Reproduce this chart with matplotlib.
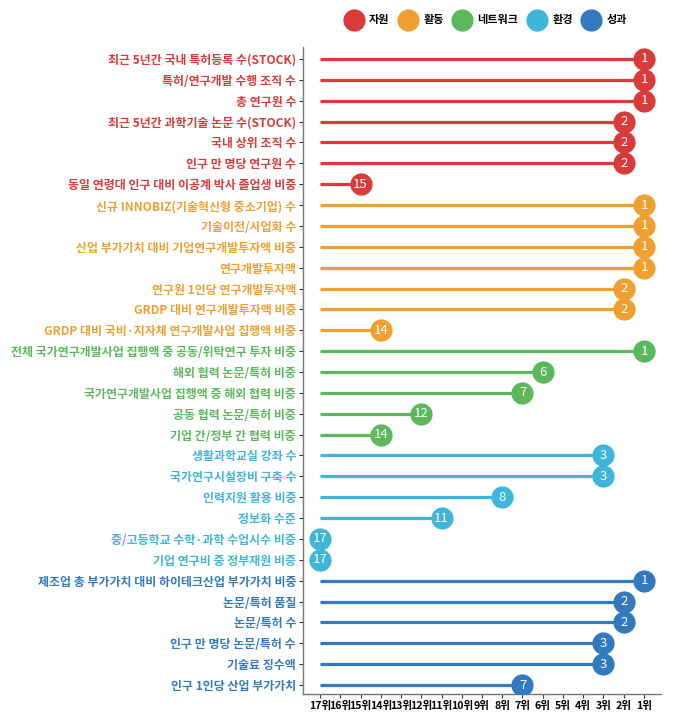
import matplotlib
matplotlib.use("Agg")
import matplotlib.pyplot as plt
from matplotlib.lines import Line2D

plt.rcParams['font.family'] = ['Noto Sans CJK KR', 'DejaVu Sans']

categories = ['자원', '활동', '네트워크', '환경', '성과']
colors = ['#D93A3A', '#F0A030', '#5CB85C', '#40B5DA', '#3279BE']

items_resource = ['최근 5년간 국내 특허등록 수(STOCK)', '특허/연구개발 수행 조직 수', '총 연구원 수',
                  '최근 5년간 과학기술 논문 수(STOCK)', '국내 상위 조직 수', '인구 만 명당 연구원 수',
                  '동일 연령대 인구 대비 이공계 박사 졸업생 비중']
ranks_resource = [1, 1, 1, 2, 2, 2, 15]

items_activity = ['신규 INNOBIZ(기술혁신형 중소기업) 수', '기술이전/사업화 수',
                  '산업 부가가치 대비 기업연구개발투자액 비중', '연구개발투자액', '연구원 1인당 연구개발투자액',
                  'GRDP 대비 연구개발투자액 비중', 'GRDP 대비 국비·지자체 연구개발사업 집행액 비중']
ranks_activity = [1, 1, 1, 1, 2, 2, 14]

items_network = ['전체 국가연구개발사업 집행액 중 공동/위탁연구 투자 비중', '해외 협력 논문/특허 비중',
                 '국가연구개발사업 집행액 중 해외 협력 비중', '공동 협력 논문/특허 비중', '기업 간/정부 간 협력 비중']
ranks_network = [1, 6, 7, 12, 14]

items_env = ['생활과학교실 강좌 수', '국가연구시설장비 구축 수', '인력지원 활용 비중', '정보화 수준',
             '중/고등학교 수학·과학 수업시수 비중', '기업 연구비 중 정부재원 비중']
ranks_env = [3, 3, 8, 11, 17, 17]

items_output = ['제조업 총 부가가치 대비 하이테크산업 부가가치 비중', '논문/특허 품질', '논문/특허 수',
                '인구 만 명당 논문/특허 수', '기술료 징수액', '인구 1인당 산업 부가가치']
ranks_output = [1, 2, 2, 3, 3, 7]

xtick_values = list(range(17, 0, -1))
xtick_labels = [f'{v}위' for v in xtick_values]
baseline = 17

groups = [(items_resource, ranks_resource), (items_activity, ranks_activity),
          (items_network, ranks_network), (items_env, ranks_env), (items_output, ranks_output)]

labels, ranks, cols = [], [], []
for (its, rks), c in zip(groups, colors):
    labels += its
    ranks += rks
    cols += [c] * len(its)

fig = plt.figure(figsize=(6.96, 7.22), dpi=100)
ax = fig.add_axes([303/696, 1 - 694/722, (661-303)/696, (694-47)/722])

n = len(labels)
ypos = list(range(n))
for y, r, c in zip(ypos, ranks, cols):
    ax.plot([baseline, r], [y, y], color=c, lw=2.3, solid_capstyle='butt', zorder=2)
    ax.plot([r], [y], marker='o', markersize=16, color=c, markeredgewidth=0, zorder=3)
    ax.text(r, y, str(r), color='white', ha='center', va='center', fontsize=9.5, zorder=4)

ax.set_xlim(17.84, 0.16)
ax.set_ylim(n - 1 + 0.43, -0.575)
ax.set_yticks(ypos)
ax.set_yticklabels(labels, fontsize=8.6, fontweight='bold')
for tl, c in zip(ax.get_yticklabels(), cols):
    tl.set_color(c)
ax.set_xticks(xtick_values)
ax.set_xticklabels(xtick_labels, fontsize=7.6, fontweight='bold')
ax.tick_params(axis='both', length=3, color='#333333', width=0.8)
ax.tick_params(axis='x', pad=2)
ax.tick_params(axis='y', pad=2)
for s in ['top', 'right']:
    ax.spines[s].set_visible(False)
for s in ['left', 'bottom']:
    ax.spines[s].set_color('#777777')
    ax.spines[s].set_linewidth(1.0)

handles = [Line2D([], [], marker='o', linestyle='None', markersize=16, color=c, markeredgewidth=0)
           for c in colors]
leg = fig.legend(handles, categories, ncol=5, loc='center', bbox_to_anchor=(487/696, 1 - 20/722),
                 frameon=False, handletextpad=0.8, columnspacing=1.03, handlelength=1.2,
                 prop={'weight': 'bold', 'size': 8})

fig.savefig('out.png', dpi=100)
